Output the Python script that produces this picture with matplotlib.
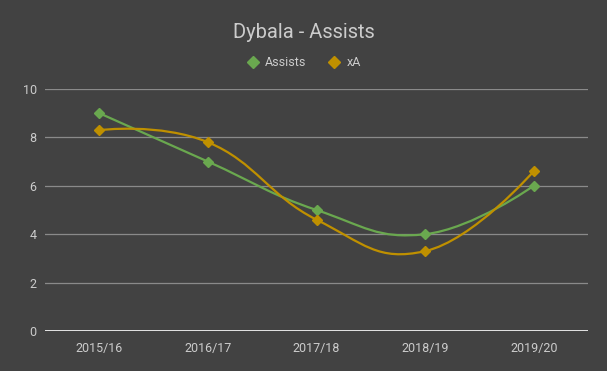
import matplotlib.pyplot as plt
import numpy as np
from matplotlib.path import Path
from matplotlib.patches import PathPatch
from matplotlib.lines import Line2D

seasons = ["2015/16", "2016/17", "2017/18", "2018/19", "2019/20"]
assists = [9, 7, 5, 4, 6]
xa = [8.3, 7.8, 4.6, 3.3, 6.6]

BG = "#424242"
GREEN = "#6aa84f"
GOLD = "#bf9000"
TEXT = "#cccccc"

plt.rcParams["font.family"] = ["Roboto", "DejaVu Sans"]


def smooth_path(xs, ys, k=0.22):
    # cubic bezier through points, control points from neighbours (like a "function" curve)
    pts = np.column_stack([xs, ys]).astype(float)
    n = len(pts)
    tang = np.zeros_like(pts)
    for i in range(1, n - 1):
        tang[i] = pts[i + 1] - pts[i - 1]
    verts = [pts[0]]
    codes = [Path.MOVETO]
    for i in range(n - 1):
        c1 = pts[i] + k * tang[i]
        c2 = pts[i + 1] - k * tang[i + 1]
        verts += [c1, c2, pts[i + 1]]
        codes += [Path.CURVE4] * 3
    return Path(verts, codes)


fig = plt.figure(figsize=(6.07, 3.71), dpi=100, facecolor=BG)
ax = fig.add_axes([45 / 607, 40 / 371, 543 / 607, 242 / 371])
ax.set_facecolor(BG)

x = np.arange(len(seasons))
for ys, col in [(assists, GREEN), (xa, GOLD)]:
    ax.add_patch(PathPatch(smooth_path(x, ys), facecolor="none", edgecolor=col,
                           lw=1.6, clip_on=False, zorder=3))
    ax.plot(x, ys, ls="none", marker="D", ms=4.6, color=col, clip_on=False, zorder=4)

ax.set_xlim(-0.5, len(seasons) - 0.5)
ax.set_ylim(0, 10)
ax.set_yticks([0, 2, 4, 6, 8, 10])
ax.set_xticks(x)
ax.set_xticklabels(seasons)
ax.grid(axis="y", color="#8a8a8a", lw=0.9)
ax.axhline(0, color="#ffffff", lw=1.2, zorder=2)
for s in ax.spines.values():
    s.set_visible(False)
ax.tick_params(length=0, colors=TEXT, labelsize=9)
ax.tick_params(axis="y", pad=6)
ax.tick_params(axis="x", pad=8)

fig.text(0.5, 1 - 32 / 371, "Dybala - Assists", ha="center", va="center",
         color=TEXT, fontsize=14.5)

handles = [Line2D([], [], ls="none", marker="D", ms=6, color=GREEN),
           Line2D([], [], ls="none", marker="D", ms=6, color=GOLD)]
fig.legend(handles, ["Assists", "xA"], loc="center", bbox_to_anchor=(0.5, 1 - 63 / 371),
           ncol=2, frameon=False, labelcolor=TEXT, fontsize=9,
           handlelength=1.0, handletextpad=0.5, columnspacing=1.7)

fig.savefig("out.png", dpi=100, facecolor=BG)
